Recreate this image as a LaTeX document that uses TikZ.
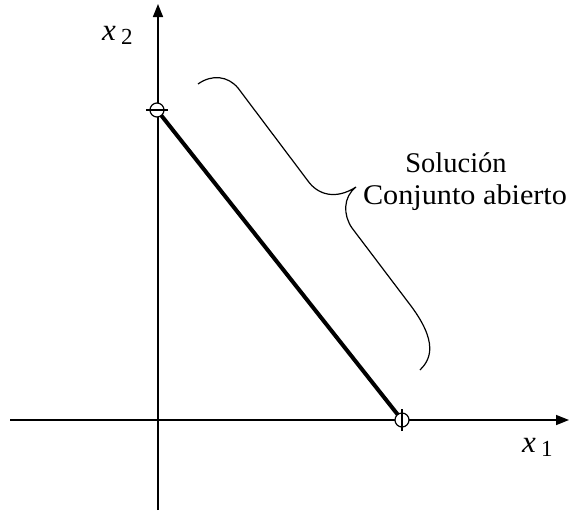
\documentclass[tikz,border=0pt]{standalone}
\usepackage{fontspec}
\setmainfont{Liberation Serif}
\usetikzlibrary{arrows.meta}
\newcommand{\varlbl}[1]{\textit{x}\,\raisebox{-4pt}{\fontsize{23}{23}\selectfont #1}}
\begin{document}
\begin{tikzpicture}[x=1pt,y=-1pt,
  axis/.style={line width=1.5pt,-{Triangle[length=13pt,width=10pt]}},
  seg/.style={line width=4pt},
  brace/.style={line width=1.2pt},
  lbl/.style={font=\fontsize{31}{32}\selectfont,inner sep=0pt},
  txt/.style={font=\fontsize{28.5}{30}\selectfont,inner sep=0pt}]
\useasboundingbox (0,0) rectangle (569,515);
\coordinate (vb) at (158,510);
\coordinate (vt) at (158,4);
\coordinate (hl) at (10,420);
\coordinate (hr) at (569,420);
\draw[axis] (vb) -- (vt);
\draw[axis] (hl) -- (hr);
\coordinate (A) at (157,110);
\coordinate (B) at (402,420);
\draw[seg] (A) -- (B);
\draw[line width=1.2pt,fill=white] (A) circle (7);
\draw[line width=1.2pt] ([xshift=-11pt]A) -- ([xshift=11pt]A);
\draw[line width=1.2pt,fill=white] (B) circle (7);
\draw[line width=1.2pt] ([yshift=-11pt]B) -- ([yshift=11pt]B);
\draw[brace] (198,84) .. controls (212,74) and (228,76) .. (238,88) -- (308,181)
  .. controls (318,195) and (336,200) .. (356,187)
  .. controls (343,197) and (343,215) .. (352,228) -- (408,302)
  .. controls (440,343) and (430,360) .. (420,370);
\node[lbl,anchor=base west] (x2) at (102,40) {\varlbl{2}};
\node[lbl,anchor=base west] (x1) at (522,452) {\varlbl{1}};
\node[txt,anchor=base] (t1) at (456,172) {Solución};
\node[txt,anchor=base] (t2) at (465,204) {\scalebox{1.06}[1]{Conjunto abierto}};
\end{tikzpicture}
\end{document}
